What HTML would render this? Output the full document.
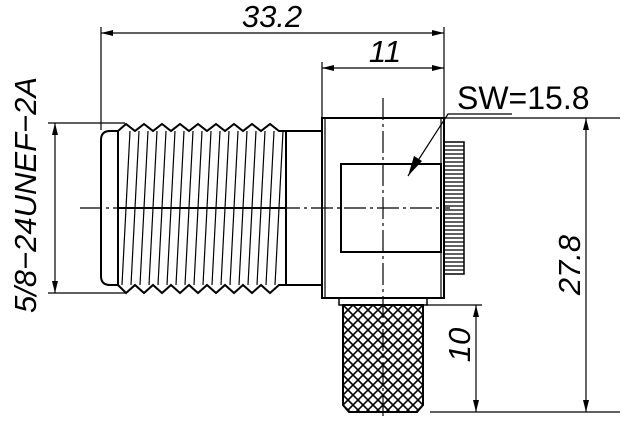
<!DOCTYPE html>
<html><head><style>html,body{margin:0;padding:0;background:#fff}svg{display:block}
text{font-family:"Liberation Sans",sans-serif;font-style:italic;fill:#000}</style></head>
<body>
<svg width="636" height="426" viewBox="0 0 636 426" xmlns="http://www.w3.org/2000/svg">
<defs>
<marker id="a" viewBox="0 0 12 6" refX="12" refY="3" markerWidth="12" markerHeight="6" orient="auto-start-reverse" markerUnits="userSpaceOnUse"><path d="M0,0L12,3L0,6z"/></marker>
<pattern id="k" width="10" height="10" patternUnits="userSpaceOnUse" x="343" y="305"><path d="M0,0L10,10M10,0L0,10" stroke="#000" stroke-width="1.6"/></pattern>
</defs>
<g stroke="#000" fill="none" stroke-width="1.2">
<line x1="101" y1="27" x2="101" y2="130"/>
<line x1="444" y1="27" x2="444" y2="118"/>
<line x1="101" y1="33" x2="444" y2="33" marker-start="url(#a)" marker-end="url(#a)"/>
<line x1="322" y1="62" x2="322" y2="118"/>
<line x1="322" y1="68" x2="444" y2="68" marker-start="url(#a)" marker-end="url(#a)"/>
<line x1="444" y1="118" x2="620" y2="118"/>
<line x1="430" y1="412" x2="620" y2="412"/>
<line x1="586" y1="118" x2="586" y2="412" marker-start="url(#a)" marker-end="url(#a)"/>
<line x1="476" y1="305" x2="476" y2="412" marker-start="url(#a)" marker-end="url(#a)"/>
<line x1="427" y1="305" x2="482" y2="305"/>
<line x1="48" y1="123" x2="125" y2="123"/>
<line x1="48" y1="293" x2="125" y2="293"/>
<line x1="55" y1="123" x2="55" y2="293" marker-start="url(#a)" marker-end="url(#a)"/>
<polyline points="512,114 448,114 408,176"/>
</g>
<path d="M408,176 L414,156 L422,161 Z" fill="#000"/>
<g stroke="#000" fill="none" stroke-width="2">
<path d="M118,131 L110,131 Q101,131 101,140 L101,276 Q101,285 110,285 L118,285"/>
<polyline points="118,131 126,124 135,131 144,124 153,131 162,124 171,131 180,124 189,131 198,124 207,131 216,124 225,131 234,124 243,131 252,124 261,131 270,124 279,131 286,131"/>
<polyline points="118,285 126,293 135,285 144,293 153,285 162,293 171,285 180,293 189,285 198,293 207,285 216,293 225,285 234,293 243,285 252,293 261,285 270,293 279,285 286,285"/>
<line x1="118" y1="131" x2="118" y2="285"/>
<line x1="286" y1="131" x2="286" y2="285"/>
<line x1="286" y1="131" x2="322" y2="131"/>
<line x1="286" y1="285" x2="322" y2="285"/>
<rect x="322" y="118" width="122" height="180"/>
<line x1="325" y1="118" x2="325" y2="298" stroke-width="1.2"/>
<line x1="441" y1="118" x2="441" y2="298" stroke-width="1.2"/>
<rect x="341" y="164" width="100" height="88"/>
<rect x="339" y="298" width="88" height="7" stroke-width="1.5"/>
<path d="M343,305 L343,405 L349,412 L417,412 L423,405 L423,305 Z" fill="url(#k)"/>
<rect x="444" y="142" width="20" height="132" stroke-width="1.5"/>
</g>
<g stroke="#000" stroke-width="1.2">
<path d="M122,285L130,131M131,285L139,131M140,285L148,131M149,285L157,131M158,285L166,131M167,285L175,131M176,285L184,131M185,285L193,131M194,285L202,131M203,285L211,131M212,285L220,131M221,285L229,131M230,285L238,131M239,285L247,131M248,285L256,131M257,285L265,131M266,285L274,131M275,285L283,131"/>
<path d="M444,146H464M444,150H464M444,154H464M444,158H464M444,162H464M444,166H464M444,170H464M444,174H464M444,178H464M444,182H464M444,186H464M444,190H464M444,194H464M444,198H464M444,202H464M444,206H464M444,210H464M444,214H464M444,218H464M444,222H464M444,226H464M444,230H464M444,234H464M444,238H464M444,242H464M444,246H464M444,250H464M444,254H464M444,258H464M444,262H464M444,266H464M444,270H464"/>
<line x1="383" y1="98" x2="383" y2="416" stroke-dasharray="22,4,3,4"/>
<line x1="80" y1="208" x2="450" y2="208" stroke-dasharray="22,4,3,4"/>
</g>
<line x1="118" y1="208" x2="286" y2="208" stroke="#000" stroke-width="2"/>
<text x="272" y="27" font-size="31" text-anchor="middle">33.2</text>
<text x="385" y="62" font-size="31" text-anchor="middle">11</text>
<text x="457" y="109" font-size="32" style="font-style:normal">SW=15.8</text>
<text transform="translate(580,265) rotate(-90)" font-size="31" text-anchor="middle">27.8</text>
<text transform="translate(470,345) rotate(-90)" font-size="31" text-anchor="middle">10</text>
<text transform="translate(36,195) rotate(-90)" font-size="31" text-anchor="middle">5/8−24UNEF−2A</text>
</svg>
</body></html>
